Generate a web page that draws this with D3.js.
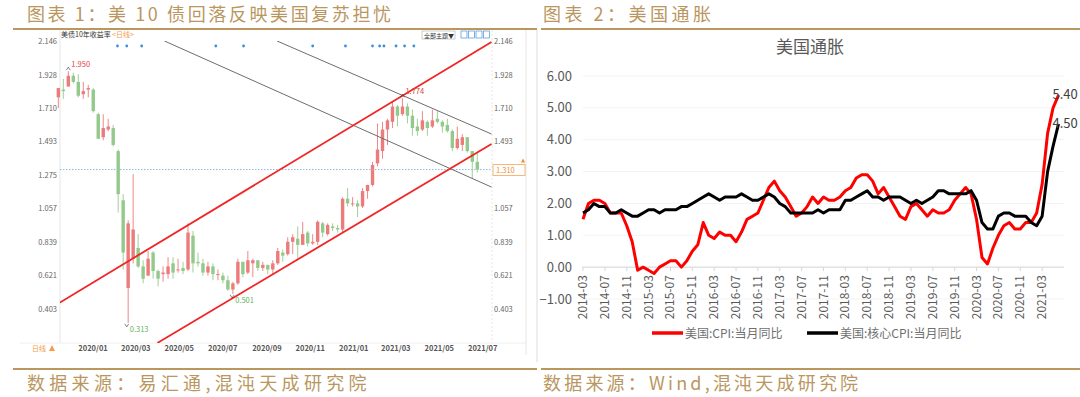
<!DOCTYPE html>
<html>
<head>
<meta charset="utf-8">
<script src="https://cdn.jsdelivr.net/npm/d3@7"></script>
<style>
  body { margin: 0; background: #fff; }
  svg { display: block; }
  text { font-family: "Noto Sans CJK SC", "Noto Sans", sans-serif; }
</style>
</head>
<body>
<div id="div1"></div>
<script>
// ---------------- data: left panel (US 10y yield, weekly candles) ----------------
let weeks = ["2019-12-02","2019-12-09","2019-12-16","2019-12-23","2019-12-30",
  "2020-01-06","2020-01-13","2020-01-20","2020-01-27","2020-02-03","2020-02-10","2020-02-17","2020-02-24",
  "2020-03-02","2020-03-09","2020-03-16","2020-03-23","2020-03-30","2020-04-06","2020-04-13","2020-04-20","2020-04-27",
  "2020-05-04","2020-05-11","2020-05-18","2020-05-25","2020-06-01","2020-06-08","2020-06-15","2020-06-22","2020-06-29",
  "2020-07-06","2020-07-13","2020-07-20","2020-07-27","2020-08-03","2020-08-10","2020-08-17","2020-08-24","2020-08-31",
  "2020-09-07","2020-09-14","2020-09-21","2020-09-28","2020-10-05","2020-10-12","2020-10-19","2020-10-26",
  "2020-11-02","2020-11-09","2020-11-16","2020-11-23","2020-11-30","2020-12-07","2020-12-14","2020-12-21","2020-12-28",
  "2021-01-04","2021-01-11","2021-01-18","2021-01-25","2021-02-01","2021-02-08","2021-02-15","2021-02-22",
  "2021-03-01","2021-03-08","2021-03-15","2021-03-22","2021-03-29","2021-04-05","2021-04-12","2021-04-19","2021-04-26",
  "2021-05-03","2021-05-10","2021-05-17","2021-05-24","2021-05-31","2021-06-07","2021-06-14","2021-06-21","2021-06-28",
  "2021-07-05","2021-07-12"];
let openVals  = [1.78,1.83,1.85,1.92,1.88, 1.80,1.83,1.83,1.67,1.52,1.57,1.58,1.43, 1.11,0.54,0.73,0.80,0.68,0.62,0.77,0.65,0.63,
  0.63,0.70,0.66,0.67,0.66,0.88,0.71,0.70,0.64, 0.68,0.63,0.62,0.59,0.53,0.57,0.71,0.64,0.70, 0.72,0.67,0.69,0.66,0.70,0.77,0.76,0.84,
  0.86,0.82,0.90,0.83,0.84,0.96,0.89,0.94,0.93, 0.92,1.12,1.09,1.09,1.07,1.17,1.21,1.35, 1.43,1.57,1.62,1.72,1.67,1.72,1.66,1.59,1.57,
  1.62,1.59,1.64,1.62,1.60,1.56,1.45,1.47,1.52, 1.43,1.36];
let highVals  = [1.84,1.90,1.95,1.94,1.93, 1.88,1.86,1.84,1.68,1.67,1.64,1.60,1.44, 1.15,0.98,1.28,0.89,0.72,0.78,0.78,0.66,0.68,
  0.74,0.74,0.73,0.71,0.96,0.91,0.77,0.73,0.71, 0.70,0.66,0.64,0.62,0.58,0.73,0.71,0.78,0.73, 0.72,0.71,0.69,0.72,0.80,0.79,0.87,0.89,
  0.94,0.97,0.91,0.89,0.98,0.97,0.96,0.96,0.95, 1.13,1.19,1.13,1.11,1.19,1.21,1.36,1.61, 1.62,1.64,1.75,1.73,1.774,1.74,1.70,1.64,1.69,
  1.63,1.70,1.69,1.63,1.64,1.57,1.59,1.54,1.52, 1.43,1.42];
let lowVals   = [1.71,1.77,1.85,1.87,1.78, 1.77,1.78,1.68,1.51,1.50,1.56,1.46,1.03, 0.66,0.313,0.70,0.67,0.57,0.62,0.60,0.55,0.58,
  0.60,0.60,0.64,0.63,0.65,0.64,0.68,0.62,0.62, 0.59,0.59,0.57,0.52,0.501,0.56,0.61,0.63,0.61, 0.65,0.65,0.63,0.63,0.69,0.71,0.75,0.76,
  0.73,0.82,0.81,0.82,0.82,0.87,0.88,0.91,0.90, 0.90,1.07,1.07,1.00,1.06,1.12,1.20,1.33, 1.38,1.47,1.58,1.59,1.66,1.61,1.53,1.53,1.56,
  1.53,1.58,1.61,1.55,1.55,1.43,1.44,1.43,1.42, 1.25,1.29];
let closeVals = [1.84,1.82,1.92,1.88,1.79, 1.82,1.84,1.69,1.51,1.58,1.59,1.47,1.15, 0.77,0.96,0.92,0.68,0.60,0.73,0.65,0.60,0.64,
  0.68,0.64,0.66,0.65,0.90,0.70,0.70,0.64,0.68, 0.63,0.63,0.59,0.53,0.57,0.71,0.63,0.72,0.72, 0.67,0.69,0.66,0.70,0.78,0.75,0.84,0.87,
  0.82,0.89,0.83,0.84,0.97,0.90,0.95,0.93,0.92, 1.12,1.09,1.09,1.07,1.17,1.21,1.34,1.44, 1.57,1.63,1.72,1.66,1.72,1.66,1.58,1.56,1.63,
  1.58,1.63,1.62,1.59,1.56,1.45,1.51,1.52,1.43, 1.36,1.31];

let yieldTicks = [2.146, 1.928, 1.710, 1.493, 1.275, 1.057, 0.839, 0.621, 0.403];
let monthTicks = ["2020/01","2020/03","2020/05","2020/07","2020/09","2020/11","2021/01","2021/03","2021/05","2021/07"];
let lastYield = 1.310;

// channel lines: [start date, start value, end date, end value]
let redChannel  = [["2019-12-05", 0.442, "2021-08-03", 2.140], ["2020-04-21", 0.182, "2021-08-03", 1.476]];
let grayChannel = [["2020-05-01", 2.146, "2021-08-03", 1.196], ["2020-10-06", 2.146, "2021-08-03", 1.541]];

// extreme point labels
let extremes = [{date: "2019-12-18", value: 1.950, up: true},
                {date: "2020-03-09", value: 0.313, up: false},
                {date: "2020-08-04", value: 0.501, up: false},
                {date: "2021-03-31", value: 1.774, up: true}];

// news markers along the top
let eventDates = ["2020-02-25","2020-03-09","2020-03-30","2020-07-12","2020-08-20","2020-11-25","2021-01-10",
  "2021-02-17","2021-02-27","2021-03-05","2021-03-22","2021-04-03","2021-04-16"];

// ---------------- data: right panel (US CPI yoy) ----------------
let cpiMonths = [];
for (let y = 2014; y <= 2021; y++) {
  for (let m = 1; m <= 12; m++) {
    if ((y == 2014 && m < 3) || (y == 2021 && m > 6)) continue;
    cpiMonths.push(y + "-" + (m < 10 ? "0" + m : m));
  }
}
let cpiVals = [1.5,2.0,2.1,2.1,2.0,1.7,1.7,1.7,1.3,0.8,
  -0.1,0.0,-0.1,-0.2,0.0,0.1,0.2,0.2,0.0,0.2,0.5,0.7,
  1.4,1.0,0.9,1.1,1.0,1.0,0.8,1.1,1.5,1.6,1.7,2.1,
  2.5,2.7,2.4,2.2,1.9,1.6,1.7,1.9,2.2,2.0,2.2,2.1,
  2.1,2.2,2.4,2.5,2.8,2.9,2.9,2.7,2.3,2.5,2.2,1.9,
  1.6,1.5,1.9,2.0,1.8,1.6,1.8,1.7,1.7,1.8,2.1,2.3,
  2.5,2.3,1.5,0.3,0.1,0.6,1.0,1.3,1.4,1.2,1.2,1.4,
  1.4,1.7,2.6,4.2,5.0,5.4];
let coreVals = [1.7,1.8,2.0,1.9,1.9,1.7,1.7,1.8,1.7,1.6,
  1.6,1.7,1.8,1.8,1.7,1.8,1.8,1.8,1.9,1.9,2.0,2.1,
  2.2,2.3,2.2,2.1,2.2,2.2,2.2,2.3,2.2,2.1,2.1,2.2,
  2.3,2.2,2.0,1.9,1.7,1.7,1.7,1.7,1.7,1.8,1.7,1.8,
  1.8,1.8,2.1,2.1,2.2,2.3,2.4,2.2,2.2,2.1,2.2,2.2,
  2.2,2.1,2.0,2.1,2.0,2.1,2.2,2.4,2.4,2.3,2.3,2.3,
  2.3,2.4,2.1,1.4,1.2,1.2,1.6,1.7,1.7,1.6,1.6,1.6,
  1.4,1.3,1.6,3.0,3.8,4.5];
let cpiTicks = [-1, 0, 1, 2, 3, 4, 5, 6];
let seriesNames = ["美国:CPI:当月同比", "美国:核心CPI:当月同比"];

let tan = "#b9975f";
let parse = d3.timeParse("%Y-%m-%d");

let svg = d3.select("#div1").append("svg")
  .attr("width", 1080)
  .attr("height", 397);

// ---------------- frame: titles and source lines ----------------
function header(x, x1, x2, title, titleSpacing, source, sourceSpacing) {
  svg.append("text").attr("x", x).attr("y", 21).text(title)
     .attr("font-size", 18).attr("fill", tan).attr("letter-spacing", titleSpacing);
  svg.append("line").attr("x1", x1).attr("x2", x2).attr("y1", 29).attr("y2", 29)
     .attr("stroke", tan).attr("stroke-width", 2);
  svg.append("line").attr("x1", x1).attr("x2", x2).attr("y1", 369).attr("y2", 369)
     .attr("stroke", tan).attr("stroke-width", 2);
  svg.append("text").attr("x", x).attr("y", 390).text(source)
     .attr("font-size", 18).attr("fill", tan).attr("letter-spacing", sourceSpacing);
}
header(27, 13, 537, "图表 1：美 10 债回落反映美国复苏担忧", 2.6, "数据来源：易汇通,混沌天成研究院", 4.3);
header(543, 541, 1080, "图表 2：美国通胀", 3.5, "数据来源：Wind,混沌天成研究院", 3.2);

// ---------------- left panel ----------------
let left = svg.append("g");
let xL = d3.scaleTime().domain([parse("2020-01-02"), parse("2021-07-01")]).range([79, 468]);
let yL = d3.scaleLinear().domain([0.403, 2.146]).range([309, 41]);
let plotL = {x0: 60, x1: 492, y0: 41, y1: 343};

// widget borders
left.append("line").attr("x1", 60).attr("x2", 60).attr("y1", 30).attr("y2", 343).attr("stroke", "#e6e6e6");
left.append("line").attr("x1", 492).attr("x2", 492).attr("y1", 30).attr("y2", 343)
    .attr("stroke", "#e6e6e6").attr("stroke-dasharray", "2,2");
left.append("line").attr("x1", 526).attr("x2", 526).attr("y1", 30).attr("y2", 355).attr("stroke", "#e6e6e6");
left.append("line").attr("x1", 537).attr("x2", 537).attr("y1", 30).attr("y2", 362).attr("stroke", "#dcdcdc");
left.append("line").attr("x1", 20).attr("x2", 526).attr("y1", 343).attr("y2", 343).attr("stroke", "#eeeeee");

// y labels both sides (the right one under the price box is hidden, as in the source)
left.selectAll(".yl").data(yieldTicks).enter().append("text")
    .attr("x", 57).attr("y", d => yL(d) + 3).attr("text-anchor", "end")
    .attr("font-size", 7.5).attr("fill", "#666").text(d => d3.format(".3f")(d));
left.selectAll(".yr").data(yieldTicks.filter(d => Math.abs(yL(d) - yL(lastYield)) > 10)).enter().append("text")
    .attr("x", 494).attr("y", d => yL(d) + 3)
    .attr("font-size", 7.5).attr("fill", "#666").text(d => d3.format(".3f")(d));

// x labels
left.selectAll(".xl").data(monthTicks).enter().append("text")
    .attr("x", d => xL(d3.timeParse("%Y/%m")(d))).attr("y", 351)
    .attr("font-size", 7.5).attr("font-weight", "bold").attr("fill", "#555").text(d => d);

left.append("text").attr("x", 61).attr("y", 37).attr("font-size", 7).attr("fill", "#333").text("美债10年收益率");
left.append("text").attr("x", 112).attr("y", 37).attr("font-size", 7).attr("fill", "#f39c4a").text("<日线>");
left.append("text").attr("x", 32).attr("y", 351).attr("font-size", 7).attr("fill", "#f39c4a").text("日线");
left.append("path").attr("d", "M49,351 l3,-6 l3,6 z").attr("fill", "#f39c4a");

// toolbar top right
left.append("rect").attr("x", 422).attr("y", 31).attr("width", 33).attr("height", 8)
    .attr("fill", "#fff").attr("stroke", "#aaa").attr("stroke-width", 0.6);
left.append("text").attr("x", 424).attr("y", 37.5).attr("font-size", 6).attr("fill", "#333").text("全部主题▼");
left.selectAll(".tb").data([0, 1, 2, 3]).enter().append("rect")
    .attr("x", d => 461 + d * 7.5).attr("y", 31).attr("width", 6).attr("height", 7)
    .attr("fill", "none").attr("stroke", "#4a90d9").attr("stroke-width", 0.7);

// event markers
left.selectAll(".ev").data(eventDates).enter().append("circle")
    .attr("cx", d => xL(parse(d))).attr("cy", 46).attr("r", 1.4).attr("fill", "#3b8fd9");

// candles
let clip = left.append("clipPath").attr("id", "clipL");
clip.append("rect").attr("x", plotL.x0).attr("y", plotL.y0)
    .attr("width", plotL.x1 - plotL.x0).attr("height", plotL.y1 - plotL.y0);

let candleData = weeks.map((w, i) => ({
  date: d3.timeDay.offset(parse(w), 2),
  o: openVals[i], h: highVals[i], l: lowVals[i], c: closeVals[i]
}));
let candleColor = d => d.c >= d.o ? "#ec7b7b" : "#93c98a";

let candles = left.append("g").selectAll("g").data(candleData).enter().append("g");
candles.append("line")
    .attr("x1", d => xL(d.date)).attr("x2", d => xL(d.date))
    .attr("y1", d => yL(d.h)).attr("y2", d => yL(d.l))
    .attr("stroke", candleColor).attr("stroke-width", 0.9);
candles.append("rect")
    .attr("x", d => xL(d.date) - 1.7).attr("width", 3.4)
    .attr("y", d => yL(Math.max(d.o, d.c)))
    .attr("height", d => Math.max(1, Math.abs(yL(d.o) - yL(d.c))))
    .attr("fill", candleColor);

// last price line
left.append("line").attr("x1", plotL.x0).attr("x2", plotL.x1)
    .attr("y1", yL(lastYield)).attr("y2", yL(lastYield))
    .attr("stroke", "#8dbbe8").attr("stroke-dasharray", "1.5,1.5");
left.append("rect").attr("x", 493).attr("y", yL(lastYield) - 5).attr("width", 32).attr("height", 11)
    .attr("fill", "#fff").attr("stroke", "#f5a55a").attr("stroke-width", 0.8);
left.append("text").attr("x", 496).attr("y", yL(lastYield) + 3)
    .attr("font-size", 7.5).attr("fill", "#f08a2c").text(d3.format(".3f")(lastYield));
left.append("path").attr("d", `M521,${yL(lastYield) - 7} l2,-4 l2,4 z`).attr("fill", "#f08a2c");

// channel lines
function trend(g, lines, color, width) {
  g.selectAll(null).data(lines).enter().append("line")
   .attr("x1", d => xL(parse(d[0]))).attr("y1", d => yL(d[1]))
   .attr("x2", d => xL(parse(d[2]))).attr("y2", d => yL(d[3]))
   .attr("stroke", color).attr("stroke-width", width)
   .attr("clip-path", "url(#clipL)");
}
trend(left, grayChannel, "#6d6d6d", 1);
trend(left, redChannel, "#f02525", 1.8);

// extreme labels
extremes.forEach(function(e) {
  let x = xL(parse(e.date)), y = yL(e.value);
  let col = e.up ? "#e0403f" : "#5fb25a";
  left.append("path")
      .attr("d", e.up ? `M${x - 2},${y - 1} l2,-3 l2,3` : `M${x - 2},${y + 1} l2,3 l2,-3`)
      .attr("fill", "none").attr("stroke", "#333").attr("stroke-width", 0.6);
  left.append("text").attr("x", x + 3).attr("y", e.up ? y - 4 : y + 9)
      .attr("font-size", 7.5).attr("fill", col).text(d3.format(".3f")(e.value));
});

// ---------------- right panel ----------------
let right = svg.append("g");
let xR = d3.scaleLinear().domain([0, cpiMonths.length]).range([583, 1064]);
let yR = d3.scaleLinear().domain([-1, 6]).range([299, 76]);

right.append("text").attr("x", 810).attr("y", 53).attr("text-anchor", "middle")
     .attr("font-size", 17).attr("fill", "#595959").text("美国通胀");

right.selectAll(".grid").data(cpiTicks).enter().append("line")
     .attr("x1", 583).attr("x2", 1064).attr("y1", d => yR(d)).attr("y2", d => yR(d))
     .attr("stroke", "#f3f3f3");

right.selectAll(".yt").data(cpiTicks).enter().append("text")
     .attr("x", 572).attr("y", d => yR(d) + 4.5).attr("text-anchor", "end")
     .attr("font-family", "Lato, 'Open Sans', sans-serif").attr("font-size", 13)
     .attr("fill", "#595959").text(d => d3.format(".2f")(d));

// x axis at zero
let tickIdx = d3.range(0, cpiMonths.length, 4);
right.append("line").attr("x1", 582).attr("x2", 1064).attr("y1", yR(0)).attr("y2", yR(0))
     .attr("stroke", "#d9d9d9");
right.selectAll(".xt").data(tickIdx).enter().append("line")
     .attr("x1", d => xR(d)).attr("x2", d => xR(d))
     .attr("y1", yR(0)).attr("y2", yR(0) + 4).attr("stroke", "#d9d9d9");
right.selectAll(".xlab").data(tickIdx).enter().append("text")
     .attr("transform", d => `translate(${xR(d) + 4},${yR(0) + 8}) rotate(-90)`)
     .attr("text-anchor", "end")
     .attr("font-family", "Lato, 'Open Sans', sans-serif").attr("font-size", 12)
     .attr("fill", "#595959").text(d => cpiMonths[d]);

let lineGen = d3.line().x((d, i) => xR(i)).y(d => yR(d));
right.append("path").datum(cpiVals).attr("d", lineGen)
     .attr("fill", "none").attr("stroke", "#ff0000").attr("stroke-width", 3).attr("stroke-linejoin", "round");
right.append("path").datum(coreVals).attr("d", lineGen)
     .attr("fill", "none").attr("stroke", "#000").attr("stroke-width", 3).attr("stroke-linejoin", "round");

// end labels
let lastI = cpiMonths.length - 1;
[cpiVals, coreVals].forEach(function(s) {
  right.append("text").attr("x", xR(lastI) - 6).attr("y", yR(s[lastI]) + 4)
       .attr("font-family", "Lato, 'Open Sans', sans-serif").attr("font-size", 13)
       .attr("fill", "#404040").text(d3.format(".2f")(s[lastI]));
});

// legend
let legendX = [652, 807];
let legendCol = ["#ff0000", "#000"];
seriesNames.forEach(function(name, i) {
  right.append("line").attr("x1", legendX[i]).attr("x2", legendX[i] + 31)
       .attr("y1", 333).attr("y2", 333).attr("stroke", legendCol[i]).attr("stroke-width", 3.5);
  right.append("text").attr("x", legendX[i] + 33).attr("y", 338)
       .attr("font-size", 12).attr("fill", "#6f6f6f").text(name);
});
</script>
</body>
</html>
